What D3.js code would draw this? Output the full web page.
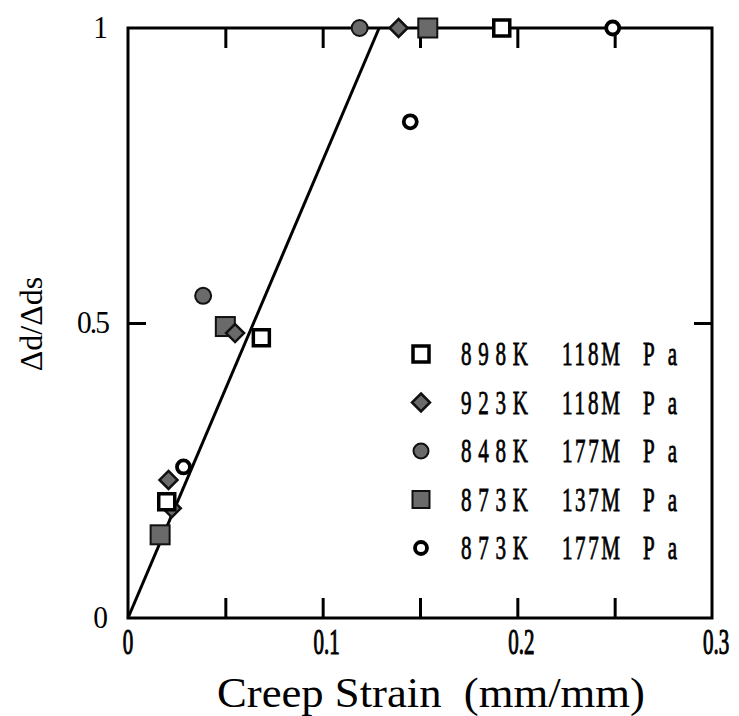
<!DOCTYPE html>
<html><head><meta charset="utf-8">
<script src="https://cdn.jsdelivr.net/npm/d3@7"></script>
<style>body{margin:0;background:#fff}svg{display:block}text{font-family:"Liberation Serif",serif}</style>
</head><body>
<script>
// ---- data ----
const seriesNames = ["898K 118MPa","923K 118MPa","848K 177MPa","873K 137MPa","873K 177MPa"];
const legendParts = [["898K","118M","Pa"],["923K","118M","Pa"],["848K","177M","Pa"],["873K","137M","Pa"],["873K","177M","Pa"]];
const s898_118 = [[0.0685,0.475],[0.0199,0.197],[0.192,1]];
const s923_118 = [[0.055,0.483],[0.0208,0.234],[0.0225,0.186],[0.139,1]];
const s848_177 = [[0.0386,0.546],[0.119,1]];
const s873_137 = [[0.050,0.494],[0.0165,0.141],[0.154,1]];
const s873_177 = [[0.0285,0.256],[0.145,0.841],[0.249,1]];
const fitLine = [[0,0],[0.129,1]];
const xTickMarks = [0.05,0.1,0.15,0.2,0.25];
const xTickLabels = [0,0.1,0.2,0.3];
const yTickMarks = [0.5];
const yTickLabels = [["1",1],["0.5",0.5],["0",0]];
const xTitle = "Creep Strain  (mm/mm)";
const yTitle = "Δd/Δds";

// ---- layout ----
const W=739,H=716;
const x=d3.scaleLinear().domain([0,0.3]).range([128,712]);
const y=d3.scaleLinear().domain([0,1]).range([618,28]);
const svg=d3.select("body").append("svg").attr("width",W).attr("height",H);
const gray="#6a6a6a";

svg.append("path").datum(fitLine)
  .attr("d",d3.line().x(d=>x(d[0])).y(d=>y(d[1])))
  .attr("fill","none").attr("stroke","#000").attr("stroke-width",3);

const tickStyle=g=>{g.select(".domain").remove();g.selectAll("text").remove();g.selectAll("line").attr("stroke","#000").attr("stroke-width",3);};
svg.append("g").attr("transform",`translate(0,${y(0)})`).call(d3.axisBottom(x).tickValues(xTickMarks).tickSize(-20)).call(tickStyle);
svg.append("g").attr("transform",`translate(0,${y(1)})`).call(d3.axisTop(x).tickValues(xTickMarks).tickSize(-20)).call(tickStyle);
svg.append("g").attr("transform",`translate(${x(0)},0)`).call(d3.axisLeft(y).tickValues(yTickMarks).tickSize(-18)).call(tickStyle);
svg.append("g").attr("transform",`translate(${x(0.3)},0)`).call(d3.axisRight(y).tickValues(yTickMarks).tickSize(-18)).call(tickStyle);

svg.append("rect").attr("x",x(0)).attr("y",y(1)).attr("width",x(0.3)-x(0)).attr("height",y(0)-y(1))
  .attr("fill","none").attr("stroke","#000").attr("stroke-width",3);

function marker(sel,type,size){
  const s=size;
  if(type==="osq") sel.append("rect").attr("x",-s/2).attr("y",-s/2).attr("width",s).attr("height",s).attr("fill","#fff").attr("stroke","#000").attr("stroke-width",3.5);
  if(type==="dia") sel.append("path").attr("d",`M0,${-s/2-1}L${s/2+1},0L0,${s/2+1}L${-s/2-1},0Z`).attr("fill",gray).attr("stroke","#111").attr("stroke-width",2.5);
  if(type==="fci") sel.append("circle").attr("r",s/2-0.5).attr("fill",gray).attr("stroke","#111").attr("stroke-width",2);
  if(type==="fsq") sel.append("rect").attr("x",-s/2).attr("y",-s/2).attr("width",s).attr("height",s).attr("fill",gray).attr("stroke","#111").attr("stroke-width",2);
  if(type==="oci") sel.append("circle").attr("r",s/2-2).attr("fill","#fff").attr("stroke","#000").attr("stroke-width",3.8);
}
const series=[
  {data:s898_118,type:"osq",size:16},
  {data:s923_118,type:"dia",size:16},
  {data:s848_177,type:"fci",size:17},
  {data:s873_137,type:"fsq",size:19},
  {data:s873_177,type:"oci",size:17}
];
const drawOrder=[3,1,2,4,0];
drawOrder.forEach(i=>{
  const s=series[i];
  svg.append("g").selectAll("g").data(s.data).join("g")
    .attr("transform",d=>`translate(${x(d[0])},${y(d[1])})`)
    .each(function(){marker(d3.select(this),s.type,s.size);});
});

const cond=(g,tx,ty,txt,fs,sx,anchor)=>g.append("text").attr("transform",`translate(${tx},${ty}) scale(${sx},1)`)
  .attr("text-anchor",anchor).attr("font-size",fs).attr("fill","#000").text(txt);
xTickLabels.forEach(v=>{
  const lab = v===0?"0":d3.format(".1f")(v);
  cond(svg, x(v)+(v===0?0:4), 654, lab, 35, 0.6, "middle").attr("stroke","#000").attr("stroke-width",1.1);
});
yTickLabels.forEach(([t,v])=>{
  cond(svg, 108, y(v)+10, t, 31, 0.95, "end").attr("letter-spacing", t==="0.5"?-2:0);
});

svg.append("text").attr("x",431).attr("y",707).attr("text-anchor","middle")
  .attr("font-size",42).attr("fill","#000").style("white-space","pre")
  .attr("textLength",428).attr("lengthAdjust","spacingAndGlyphs").text(xTitle);
svg.append("text").attr("transform",`translate(42,324) rotate(-90)`).attr("text-anchor","middle")
  .attr("font-size",32).attr("fill","#000").text(yTitle);

const legY=i=>354+48.5*i;
const partX=[461,562,643], partW=[67,58,34];
series.forEach((s,i)=>{
  const g=svg.append("g").attr("transform",`translate(421,${legY(i)})`);
  marker(g,s.type,s.type==="fsq"?17:16);
  legendParts[i].forEach((p,j)=>{
    const sx=0.62;
    svg.append("text").attr("transform",`translate(${partX[j]},${legY(i)+11}) scale(${sx},1)`)
      .attr("font-size",34).attr("fill","#000").attr("stroke","#000").attr("stroke-width",0.8)
      .attr("textLength",partW[j]/sx).attr("lengthAdjust","spacing").text(p);
  });
});
</script>
</body></html>
